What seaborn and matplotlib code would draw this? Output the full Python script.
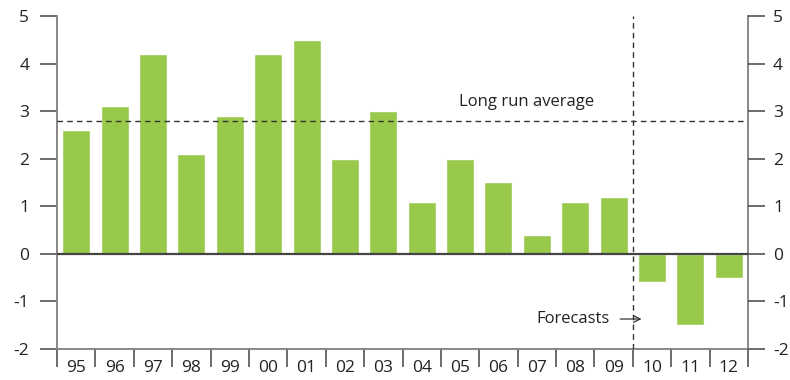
import matplotlib
matplotlib.use("Agg")
import matplotlib.pyplot as plt
import numpy as np
import pandas as pd
import seaborn as sns

sns.set_theme(style="white")
plt.rcParams['font.family'] = ['Open Sans', 'DejaVu Sans']

years = ["95", "96", "97", "98", "99", "00", "01", "02", "03",
         "04", "05", "06", "07", "08", "09", "10", "11", "12"]
growth = [2.6, 3.1, 4.2, 2.1, 2.9, 4.2, 4.5, 2.0, 3.0,
          1.1, 2.0, 1.5, 0.4, 1.1, 1.2, -0.6, -1.5, -0.5]
long_run_average = 2.8
forecast_start = "10"
y_ticks = [-2, -1, 0, 1, 2, 3, 4, 5]

df = pd.DataFrame({"year": years, "growth": growth})

bar_color = "#98C94A"
axis_color = "#7f7f7f"
text_color = "#222222"

fig = plt.figure(figsize=(7.9, 3.8), dpi=100)
ax = fig.add_axes([0.0722, 0.0816, 0.8746, 0.8764])

sns.barplot(data=df, x="year", y="growth", order=years, color=bar_color,
            saturation=1, width=0.73, ax=ax)

n = len(years)
ax.set_xlim(-0.5, n - 0.5)
ax.set_ylim(-2, 5)
ax.set_xlabel("")
ax.set_ylabel("")

# zero line and long-run average
ax.axhline(0, color="#444444", lw=1.6, zorder=3)
ax.axhline(long_run_average, color="#333333", lw=1.0, ls=(0, (4, 3)), zorder=3)
ax.text(11.74, long_run_average + 0.22, "Long run average", ha="center", va="bottom",
        fontsize=12, color=text_color)

# forecast divider
fx = years.index(forecast_start) - 0.5
ax.axvline(fx, color="#333333", lw=1.0, ls=(0, (4, 3)), zorder=3, ymin=0, ymax=1)
ax.text(fx - 0.6, -1.37, "Forecasts", ha="right", va="center",
        fontsize=12, color=text_color)
ax.annotate("", xy=(fx + 0.3, -1.37), xytext=(fx - 0.4, -1.37),
            arrowprops=dict(arrowstyle="->", color="#333333", lw=0.9))

# spines
for side in ["left", "right", "bottom"]:
    ax.spines[side].set_color(axis_color)
    ax.spines[side].set_linewidth(1.3)
ax.spines["top"].set_visible(False)

# y ticks both sides
ax.set_yticks(y_ticks)
ax.set_yticklabels([str(v) for v in y_ticks])
ax.tick_params(axis="y", which="major", direction="out", length=12, width=1.1,
               color="#444444", labelsize=12.5, labelcolor=text_color, pad=8,
               left=True, labelleft=True)

ax2 = ax.twinx()
ax2.set_ylim(ax.get_ylim())
ax2.set_yticks(y_ticks)
ax2.set_yticklabels([str(v) for v in y_ticks])
ax2.tick_params(axis="y", direction="out", length=12, width=1.1,
                color="#444444", labelsize=12.5, labelcolor=text_color, pad=6)
for side in ["left", "right", "bottom", "top"]:
    ax2.spines[side].set_visible(False)

# x labels at centres, tick marks at category boundaries
ax.set_xticks(np.arange(n))
ax.set_xticklabels(years)
ax.tick_params(axis="x", which="major", length=0, labelsize=12.5,
               labelcolor=text_color, pad=8)
ax.set_xticks(np.arange(n + 1) - 0.5, minor=True)
ax.tick_params(axis="x", which="minor", direction="out", length=13, width=1.1,
               color="#444444", bottom=True)

fig.savefig("out.png", dpi=100)
